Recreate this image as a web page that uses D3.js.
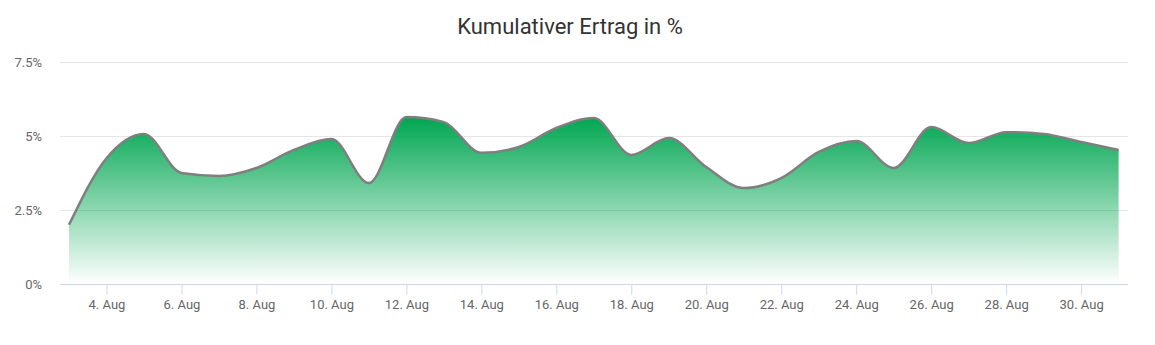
<!DOCTYPE html>
<html>
<head>
<meta charset="utf-8">
<script src="https://cdn.jsdelivr.net/npm/d3@7"></script>
<style>
  html, body { margin: 0; padding: 0; background: #fff; }
  svg { display: block; font-family: Roboto, "Open Sans", sans-serif; }
</style>
</head>
<body>
<svg id="chart" width="1155" height="345"></svg>
<script>
// Daily cumulative return, August
const dates = [
  "2023-08-03","2023-08-04","2023-08-05","2023-08-06","2023-08-07","2023-08-08",
  "2023-08-09","2023-08-10","2023-08-11","2023-08-12","2023-08-13","2023-08-14",
  "2023-08-15","2023-08-16","2023-08-17","2023-08-18","2023-08-19","2023-08-20",
  "2023-08-21","2023-08-22","2023-08-23","2023-08-24","2023-08-25","2023-08-26",
  "2023-08-27","2023-08-28","2023-08-29","2023-08-30","2023-08-31"
];
const returns = [
  2.0, 4.25, 5.07, 3.75, 3.65, 3.92,
  4.53, 4.9, 3.41, 5.64, 5.47, 4.43,
  4.63, 5.27, 5.61, 4.36, 4.93, 3.95,
  3.24, 3.58, 4.46, 4.83, 3.92, 5.3,
  4.76, 5.13, 5.07, 4.8, 4.53
];
const yTicks = [0, 2.5, 5, 7.5];
const yTickLabels = ["0%", "2.5%", "5%", "7.5%"];
const title = "Kumulativer Ertrag in %";

const parse = d3.utcParse("%Y-%m-%d");
const data = dates.map((d, i) => ({ date: parse(d), value: returns[i] }));

const svg = d3.select("#chart");
const plotLeft = 60, plotRight = 1128, plotTop = 62, plotBottom = 284;
const DAY = 864e5;

const first = data[0].date, last = data[data.length - 1].date;
const x = d3.scaleUtc()
  .domain([new Date(+first - 0.24 * DAY), new Date(+last + 0.25 * DAY)])
  .range([plotLeft, plotRight]);
const y = d3.scaleLinear().domain([0, 7.5]).range([plotBottom, plotTop]);

// Title
svg.append("text")
  .attr("x", 570).attr("y", 34)
  .attr("text-anchor", "middle")
  .attr("fill", "#333333")
  .attr("font-size", 22)
  .text(title);

// Horizontal grid
svg.append("g").selectAll("line").data(yTicks.slice(1)).join("line")
  .attr("x1", plotLeft).attr("x2", plotRight)
  .attr("y1", d => Math.round(y(d)) + 0.5).attr("y2", d => Math.round(y(d)) + 0.5)
  .attr("stroke", "#e6e6e6").attr("stroke-width", 1);

// Y labels
svg.append("g").selectAll("text").data(yTicks).join("text")
  .attr("x", 42).attr("y", d => y(d) + 5)
  .attr("text-anchor", "end")
  .attr("fill", "#666666")
  .attr("font-size", 13)
  .text((d, i) => yTickLabels[i]);

// Area gradient
const defs = svg.append("defs");
const grad = defs.append("linearGradient")
  .attr("id", "areaFill").attr("x1", 0).attr("y1", 0).attr("x2", 0).attr("y2", 1);
grad.append("stop").attr("offset", 0).attr("stop-color", "rgb(0,166,81)").attr("stop-opacity", 1);
grad.append("stop").attr("offset", 1).attr("stop-color", "rgb(0,166,81)").attr("stop-opacity", 0);

const curve = d3.curveMonotoneX;
const area = d3.area()
  .x(d => x(d.date)).y0(y(0)).y1(d => y(d.value)).curve(curve);
const line = d3.line()
  .x(d => x(d.date)).y(d => y(d.value)).curve(curve);

svg.append("path").datum(data)
  .attr("d", area)
  .attr("fill", "url(#areaFill)");

svg.append("path").datum(data)
  .attr("d", line)
  .attr("fill", "none")
  .attr("stroke", "#7f7f7f")
  .attr("stroke-width", 2.5)
  .attr("stroke-linejoin", "round");

// X axis
const xTicks = d3.utcDay.range(d3.utcDay.offset(first, 1), d3.utcDay.offset(last, 1))
  .filter(d => d.getUTCDate() % 2 === 0);
const fmt = d => `${d.getUTCDate()}. Aug`;
const xAxis = svg.append("g")
  .attr("transform", `translate(0,${plotBottom + 0.5})`)
  .call(d3.axisBottom(x).tickValues(xTicks).tickFormat(fmt).tickSize(10).tickSizeOuter(0));
xAxis.select(".domain").attr("stroke", "#ccd6eb").attr("d", `M${plotLeft},0H${plotRight}`);
xAxis.selectAll(".tick line").attr("stroke", "#ccd6eb");
xAxis.selectAll(".tick text")
  .attr("fill", "#666666")
  .attr("font-size", 13)
  .attr("font-family", "Roboto, sans-serif")
  .attr("dy", 0).attr("y", 24);
</script>
</body>
</html>
